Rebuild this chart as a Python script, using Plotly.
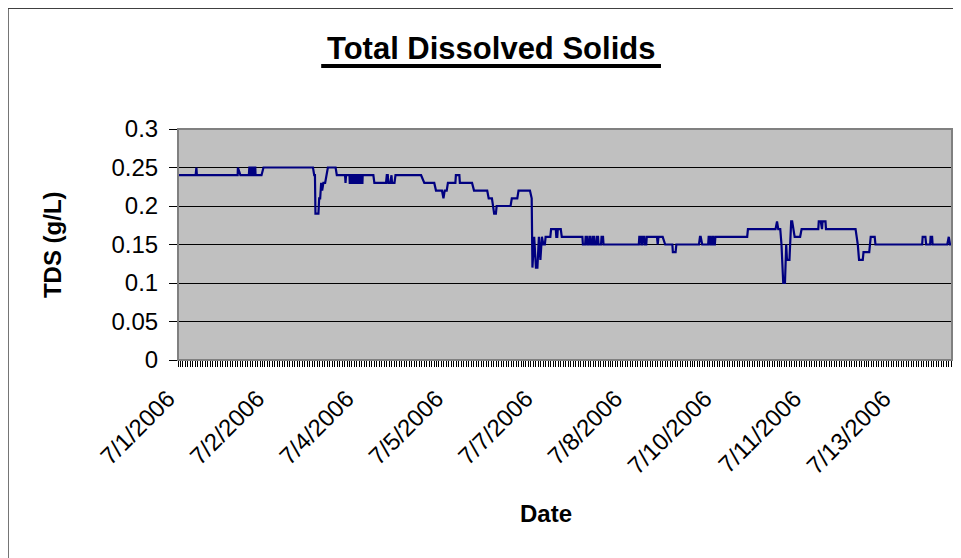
import pandas as pd
import plotly.graph_objects as go

# hours after 7/1/2006 00:00 at each vertex of the trace, and TDS there (g/L)
hours = [0.0, 7.1, 7.4, 7.6, 24.0, 24.1, 25.1, 28.5, 28.7, 29.1, 29.2, 29.6, 29.7, 30.1,
         30.3, 30.7, 30.8, 31.1, 31.2, 33.6, 34.4, 54.3, 54.8, 55.1, 55.3, 56.5, 56.8,
         57.2, 57.6, 58.0, 58.5, 59.2, 60.3, 63.4, 63.9, 67.2, 67.4, 67.6, 69.0, 69.1,
         69.7, 69.8, 70.2, 70.3, 70.8, 70.9, 71.3, 71.4, 72.0, 72.1, 72.5, 72.6, 73.2,
         73.3, 73.7, 73.8, 74.2, 74.3, 78.6, 79.0, 83.7, 84.0, 84.4, 84.6, 85.4, 85.6,
         85.9, 86.1, 87.1, 87.5, 97.8, 99.1, 103.1, 103.8, 106.2, 106.8, 107.3, 108.1,
         108.6, 111.6, 111.8, 113.2, 113.4, 118.3, 119.1, 124.4, 125.0, 126.3, 126.8,
         127.2, 127.9, 128.2, 133.8, 134.3, 136.5, 137.0, 141.6, 142.3, 142.6, 143.3,
         144.0, 144.6, 145.2, 145.8, 146.4, 147.0, 147.6, 147.9, 149.8, 150.1, 152.0,
         152.2, 152.6, 152.8, 154.0, 154.4, 162.7, 162.9, 163.8, 164.0, 164.5, 164.7,
         165.3, 165.5, 166.0, 166.2, 166.8, 167.0, 167.4, 167.6, 168.3, 168.5, 169.0,
         169.2, 170.2, 170.4, 171.0, 171.2, 185.4, 185.6, 186.2, 186.4, 186.8, 187.0,
         187.6, 187.8, 188.4, 188.6, 192.7, 193.0, 193.3, 195.0, 196.0, 198.9, 199.1,
         200.2, 200.5, 209.6, 210.0, 210.3, 210.9, 213.3, 213.5, 214.0, 214.2, 214.7,
         214.9, 215.3, 215.5, 216.0, 216.2, 229.0, 229.3, 240.4, 241.0, 241.5, 242.3,
         242.8, 243.5, 244.2, 244.7, 245.0, 246.0, 246.2, 246.7, 247.1, 248.1, 250.3,
         250.9, 257.6, 257.8, 258.6, 258.8, 259.1, 259.3, 260.5, 260.7, 272.6, 273.5,
         274.0, 275.5, 275.8, 278.1, 278.3, 278.7, 280.3, 280.6, 299.4, 299.6, 300.7,
         301.0, 302.6, 302.8, 303.4, 303.6, 309.5, 310.1, 310.6, 311.4]
tds = [0.24, 0.24, 0.25, 0.24, 0.24, 0.25, 0.24, 0.24, 0.25, 0.25, 0.24, 0.24, 0.25, 0.25,
       0.24, 0.24, 0.25, 0.25, 0.24, 0.24, 0.25, 0.25, 0.24, 0.24, 0.19, 0.19, 0.21,
       0.21, 0.23, 0.22, 0.23, 0.23, 0.25, 0.25, 0.24, 0.24, 0.23, 0.24, 0.24, 0.23,
       0.23, 0.24, 0.24, 0.23, 0.23, 0.24, 0.24, 0.23, 0.23, 0.24, 0.24, 0.23, 0.23,
       0.24, 0.24, 0.23, 0.23, 0.24, 0.24, 0.23, 0.23, 0.24, 0.24, 0.23, 0.23, 0.24,
       0.24, 0.23, 0.23, 0.24, 0.24, 0.23, 0.23, 0.22, 0.22, 0.21, 0.22, 0.22,
       0.23, 0.23, 0.24, 0.24, 0.23, 0.23, 0.22, 0.22, 0.21, 0.21, 0.20,
       0.19, 0.19, 0.20, 0.20, 0.21, 0.21, 0.22, 0.22, 0.21, 0.12, 0.16,
       0.12, 0.12, 0.16, 0.13, 0.16, 0.15, 0.15, 0.16, 0.16, 0.17, 0.17,
       0.16, 0.16, 0.17, 0.17, 0.16, 0.16, 0.15, 0.15, 0.16, 0.16, 0.15,
       0.15, 0.16, 0.16, 0.15, 0.15, 0.16, 0.16, 0.15, 0.15, 0.16, 0.16,
       0.15, 0.15, 0.16, 0.16, 0.15, 0.15, 0.16, 0.16, 0.15, 0.15, 0.16,
       0.16, 0.15, 0.15, 0.16, 0.16, 0.15, 0.16, 0.16, 0.15, 0.15, 0.14,
       0.14, 0.15, 0.15, 0.16, 0.16, 0.15, 0.15, 0.16, 0.16, 0.15, 0.15,
       0.16, 0.16, 0.15, 0.15, 0.16, 0.16, 0.17, 0.17, 0.18, 0.17, 0.17,
       0.15, 0.10, 0.10, 0.15, 0.13, 0.13, 0.15, 0.18, 0.18, 0.16, 0.16,
       0.17, 0.17, 0.18, 0.18, 0.17, 0.17, 0.18, 0.18, 0.17, 0.17, 0.15,
       0.13, 0.13, 0.14, 0.14, 0.15, 0.16, 0.16, 0.15, 0.15, 0.16, 0.16,
       0.15, 0.15, 0.16, 0.16, 0.15, 0.15, 0.16, 0.15, 0.15]

start = pd.Timestamp("2006-07-01")
when = start + pd.to_timedelta(hours, unit="h")

font = "Liberation Sans, Arial, sans-serif"

fig = go.Figure()
fig.add_trace(go.Scatter(x=when, y=tds, mode="lines",
                         line=dict(color="#000080", width=2.2), showlegend=False))

# the page body adds an 8px offset, so margins are set 8px smaller
fig.update_layout(
    width=961, height=558,
    margin=dict(l=170, r=17, t=121, b=206),
    paper_bgcolor="white", plot_bgcolor="#C0C0C0",
    font=dict(family=font, size=24, color="black"),
)

fig.update_xaxes(
    type="date", range=[when[0], when[-1]], automargin=False,
    tick0=start, dtick=36 * 3600 * 1000, tickformat="%-m/%-d/%Y", tickangle=-45,
    ticks="outside", ticklen=6, tickcolor="black", ticklabelstandoff=8,
    ticklabelshift=-10,
    minor=dict(dtick=3600 * 1000, ticks="outside", ticklen=6, tickcolor="black"),
    showgrid=False, showline=True, linecolor="black", linewidth=1,
    tickfont=dict(size=24),
)
fig.update_yaxes(
    range=[0, 0.3], dtick=0.05, automargin=False,
    ticks="outside", ticklen=8, tickcolor="black", ticklabelstandoff=6,
    showgrid=True, gridcolor="black", gridwidth=1,
    showline=True, linecolor="black", linewidth=1, zeroline=False,
    tickfont=dict(size=24),
)

# plot-area border and the outer chart frame
fig.add_shape(type="rect", xref="paper", yref="paper", x0=0, x1=1, y0=0, y1=1,
              line=dict(color="#808080", width=2), layer="above")
fig.add_shape(type="rect", xref="paper", yref="paper", x0=-0.22, x1=1.15, y0=-1.2, y1=1.524,
              line=dict(color="#404040", width=2))
# underline of the title
fig.add_shape(type="line", xref="paper", yref="paper", x0=0.185, x1=0.624, y0=1.273, y1=1.273,
              line=dict(color="black", width=4))

fig.add_annotation(text="<b>Total Dissolved Solids</b>", xref="paper", yref="paper",
                   x=0.4047, y=1.347, showarrow=False, font=dict(size=31),
                   xanchor="center", yanchor="middle")
fig.add_annotation(text="<b>TDS (g/L)</b>", xref="paper", yref="paper",
                   x=-0.162, y=0.5, showarrow=False, textangle=-90, font=dict(size=24),
                   xanchor="center", yanchor="middle")
fig.add_annotation(text="<b>Date</b>", xref="paper", yref="paper",
                   x=0.476, y=-0.6625, showarrow=False, font=dict(size=24),
                   xanchor="center", yanchor="middle")

fig.write_html("out.html")
